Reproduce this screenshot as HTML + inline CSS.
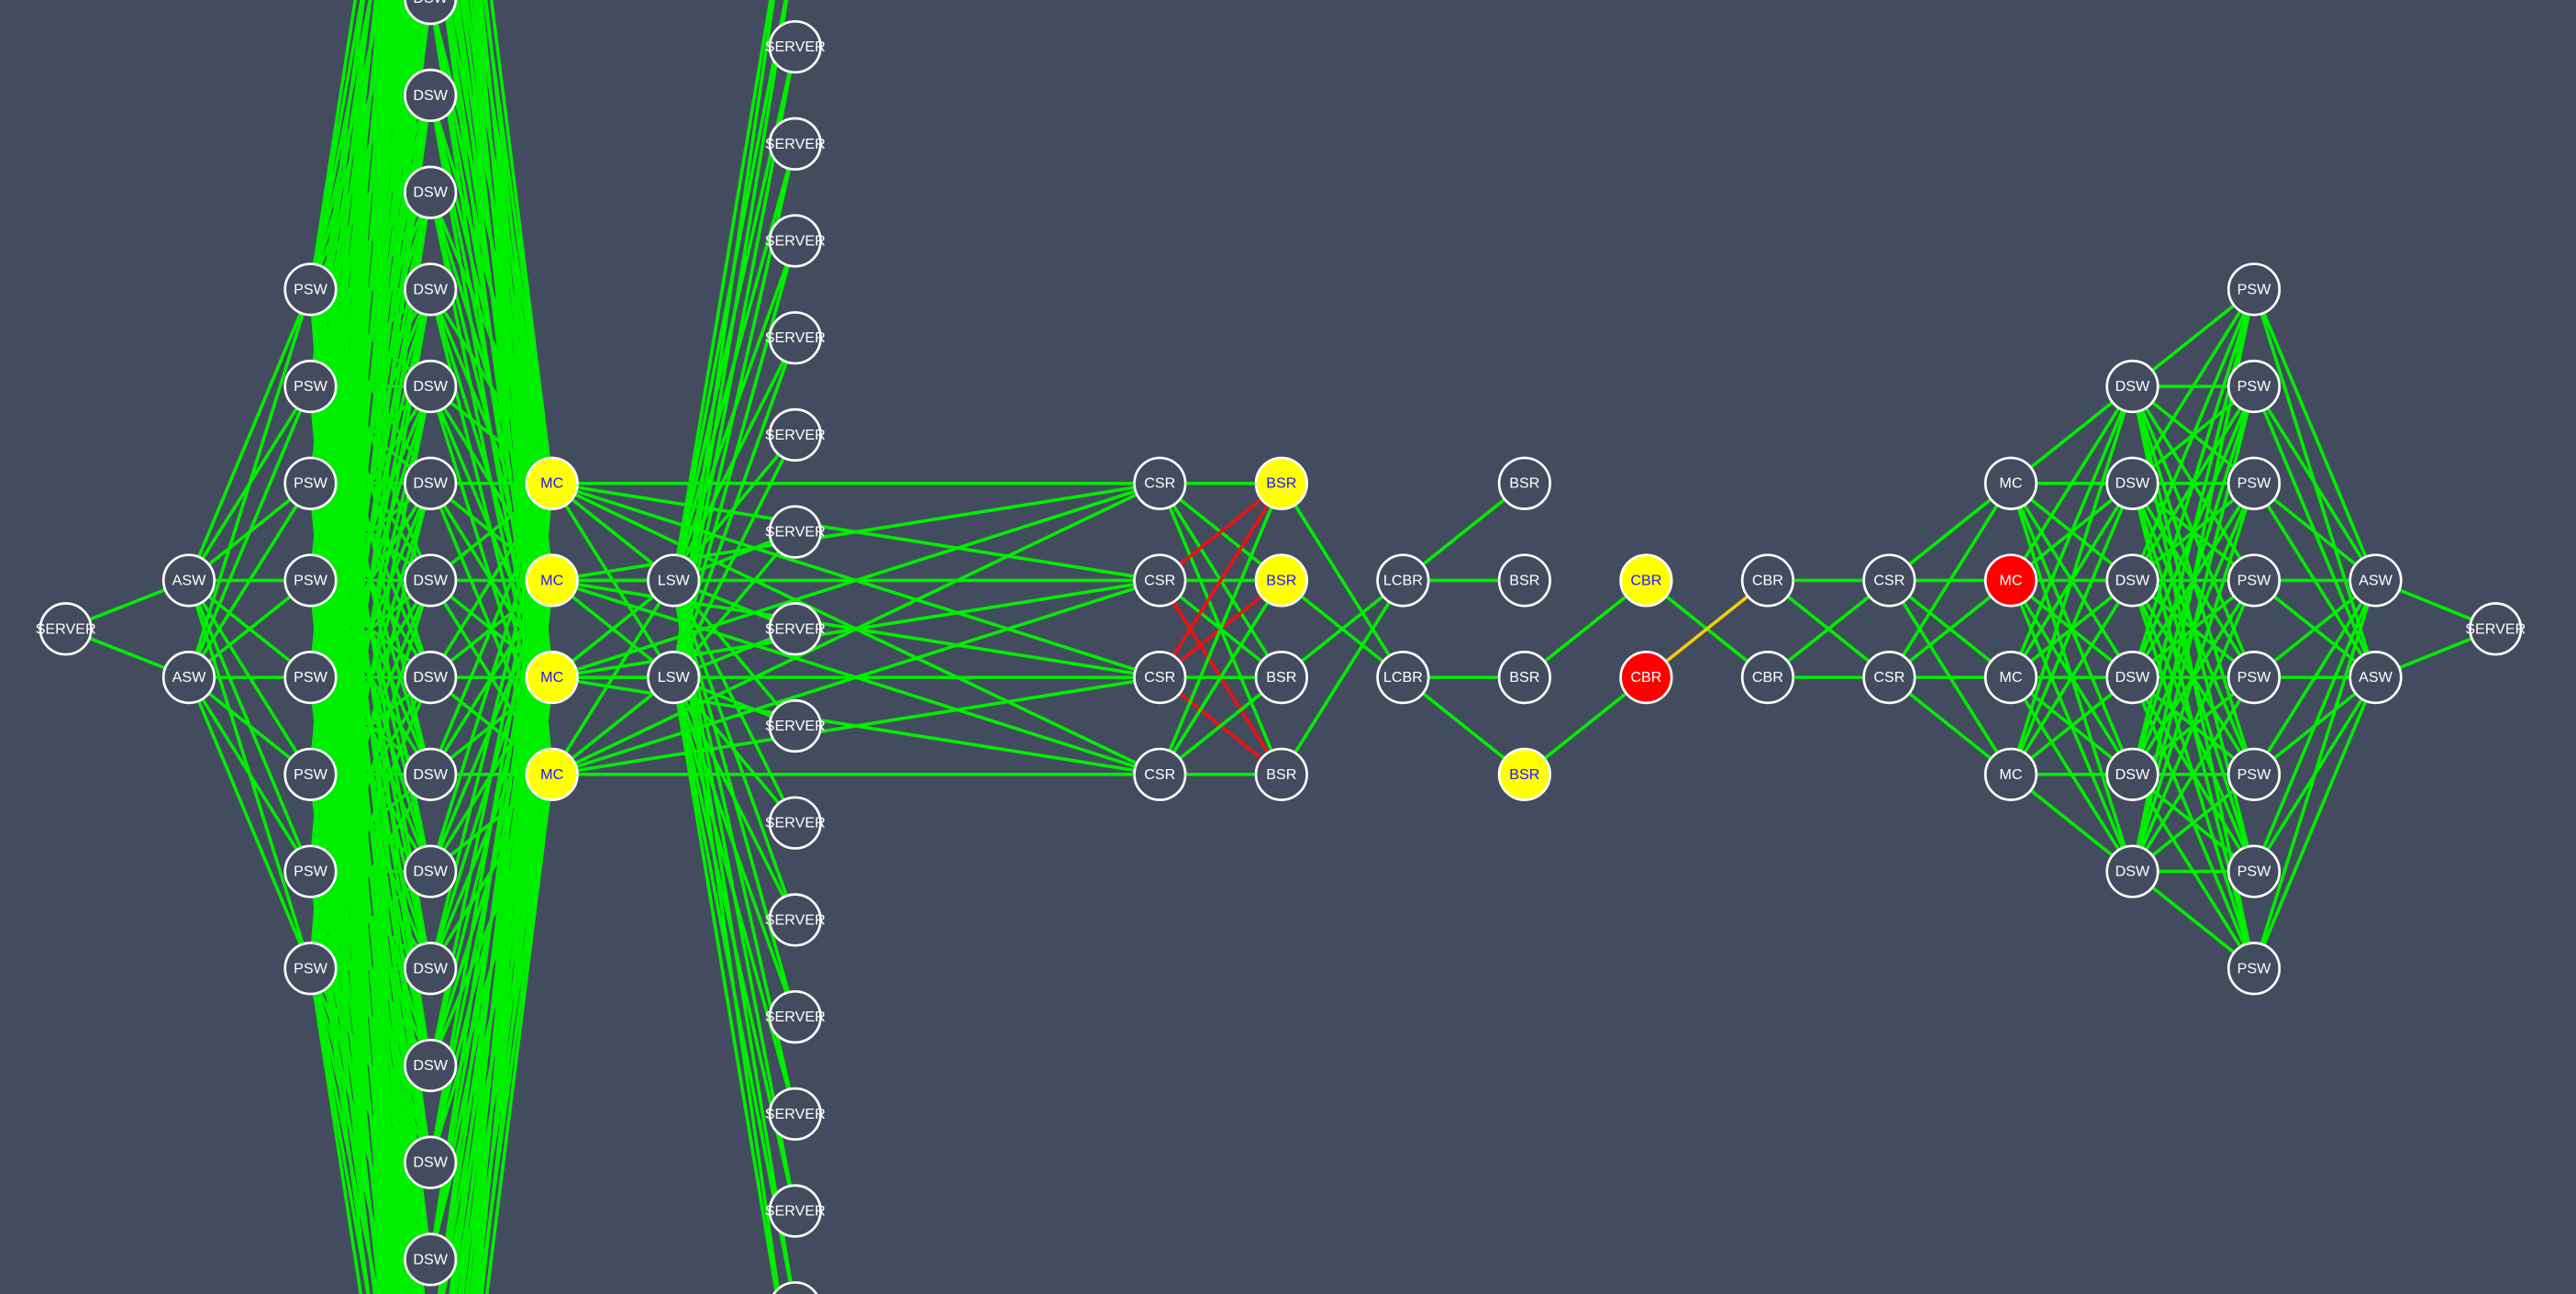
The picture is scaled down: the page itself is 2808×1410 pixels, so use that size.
<!DOCTYPE html>
<html><head><meta charset="utf-8"><style>
html,body{margin:0;padding:0;background:#434c5e;width:2808px;height:1410px;overflow:hidden}
svg{display:block}
text{font-family:"Liberation Sans",sans-serif;font-size:9px;text-anchor:middle;dominant-baseline:central}
</style></head><body>
<svg id="net" width="2808" height="1410" viewBox="0 0 1568 787" preserveAspectRatio="none">
<rect width="1568" height="787" fill="#434c5e"/>
<g id="edges"></g>
<g id="nodes"></g>
</svg>
<script>
const columnIds = ["srvL","aswL","pswL","dswL","mcL","lswL","srvM","csrL","bsrL","lcbr","bsrR","cbrL","cbrR","csrR","mcR","dswR","pswR","aswR","srvR"];
const columnLabels = ["SERVER","ASW","PSW","DSW","MC","LSW","SERVER","CSR","BSR","LCBR","BSR","CBR","CBR","CSR","MC","DSW","PSW","ASW","SERVER"];
const columnX = [40,115,189,262,336,410,484,706,780,854,928,1002,1076,1150,1224,1298,1372,1446,1519];
const columnRows = [
 [0.5],[0,1],[-3,-2,-1,0,1,2,3,4],
 [-11,-10,-9,-8,-7,-6,-5,-4,-3,-2,-1,0,1,2,3,4,5,6,7,8,9,10,11,12],
 [-1,0,1,2],[0,1],
 [-7.5,-6.5,-5.5,-4.5,-3.5,-2.5,-1.5,-0.5,0.5,1.5,2.5,3.5,4.5,5.5,6.5,7.5,8.5],
 [-1,0,1,2],[-1,0,1,2],[0,1],[-1,0,1,2],[0,1],[0,1],[0,1],[-1,0,1,2],[-2,-1,0,1,2,3],[-3,-2,-1,0,1,2,3,4],[0,1],[0.5]
];
const yellowNodes = ["4:-1","4:0","4:1","4:2","8:-1","8:0","10:2","11:0"];
const redNodes = ["11:1","14:0"];
const fullPairs = [[0,1],[1,2],[2,3],[3,4],[4,5],[5,6],[4,7],[13,14],[14,15],[15,16],[16,17],[17,18],[12,13],[7,8]];
const explicitEdges = [
 [8,-1,9,1,"g"],[8,0,9,1,"g"],[8,1,9,0,"g"],[8,2,9,0,"g"],
 [9,0,10,-1,"g"],[9,0,10,0,"g"],[9,1,10,1,"g"],[9,1,10,2,"g"],
 [10,1,11,0,"g"],[10,2,11,1,"g"],
 [11,0,12,1,"g"],[11,1,12,0,"y"]
];
const redEdges = ["0>-1","1>-1","1>0","0>2","1>2"];
const yOf = r => 382 + r*59 - 29;
const NS = "http://www.w3.org/2000/svg";
const eg = document.getElementById("edges"), ng = document.getElementById("nodes");
const colorMap = {g:"#00ee00", r:"#ee1111", y:"#f5d000"};
function addEdge(a, ra, b, rb, c){
  const l = document.createElementNS(NS,"line");
  l.setAttribute("x1", columnX[a]); l.setAttribute("y1", yOf(ra));
  l.setAttribute("x2", columnX[b]); l.setAttribute("y2", yOf(rb));
  l.setAttribute("stroke", colorMap[c]); l.setAttribute("stroke-width", "2");
  
  
  eg.appendChild(l);
}
fullPairs.forEach(([a,b])=>{
  columnRows[a].forEach(ra=>columnRows[b].forEach(rb=>{
    let c = "g";
    if (a===7 && b===8 && redEdges.includes(ra+">"+rb)) c = "r";
    addEdge(a,ra,b,rb,c);
  }));
});
explicitEdges.forEach(e=>addEdge(e[0],e[1],e[2],e[3],e[4]));
columnRows.forEach((rows,ci)=>{
  rows.forEach(r=>{
    const y = yOf(r);
    if (y < -40 || y > 830) return;
    const key = ci+":"+r;
    const g = document.createElementNS(NS,"g");
    
    
    const c = document.createElementNS(NS,"circle");
    c.setAttribute("cx", columnX[ci]); c.setAttribute("cy", y); c.setAttribute("r", "15.5");
    let fill = "#434c5e", tc = "#ffffff";
    if (yellowNodes.includes(key)) { fill = "#ffff00"; tc = "#1a1aff"; }
    if (redNodes.includes(key)) { fill = "#ff0000"; tc = "#ffffff"; }
    c.setAttribute("fill", fill); c.setAttribute("stroke", "#ffffff"); c.setAttribute("stroke-width", "1.5");
    const t = document.createElementNS(NS,"text");
    t.setAttribute("x", columnX[ci]); t.setAttribute("y", y);
    t.setAttribute("fill", tc);
    if (columnLabels[ci]==="SERVER") t.setAttribute("font-size","8.5");
    t.textContent = columnLabels[ci];
    g.appendChild(c); g.appendChild(t); ng.appendChild(g);
  });
});
</script>
</body></html>
